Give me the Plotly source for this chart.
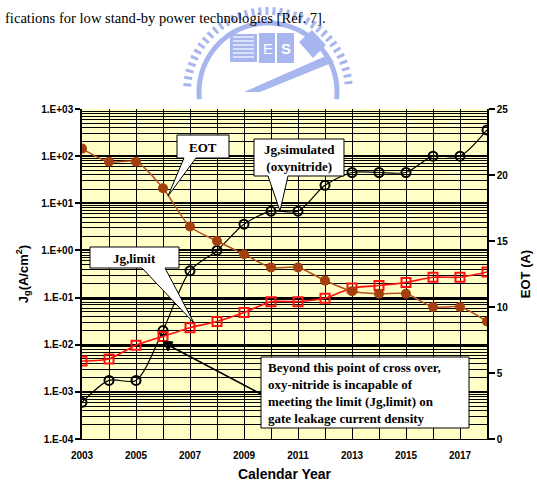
import math
import plotly.graph_objects as go

# ---------------- data ----------------
years = list(range(2003, 2019))
jg_simulated = [6.0e-4, 1.75e-3, 1.75e-3, 2.0e-2, 0.37, 1.0, 3.6, 6.8, 6.8, 24, 45, 45, 45, 100, 100, 360]
jg_limit = [4.5e-3, 5.0e-3, 9.8e-3, 1.5e-2, 2.3e-2, 3.1e-2, 4.8e-2, 8.2e-2, 8.2e-2, 9.7e-2, 0.16, 0.18, 0.21, 0.27, 0.27, 0.35]
eot = [22, 21, 21, 19, 16.1, 15, 14, 13, 13, 12, 11.2, 11, 11, 10, 10, 8.9]

left_tickvals = [1e-4, 1e-3, 1e-2, 1e-1, 1e0, 1e1, 1e2, 1e3]
left_ticktext = ["1.E-04", "1.E-03", "1.E-02", "1.E-01", "1.E+00", "1.E+01", "1.E+02", "1.E+03"]
x_tickvals = [2003, 2005, 2007, 2009, 2011, 2013, 2015, 2017]

# ---------------- geometry helpers (layout decorations only) ----------------
W, H = 537, 483
L, R, T, B = 82, 50, 109, 44
PW, PH = W - L - R, H - T - B


def px(x):
    return (x - L) / PW


def py(y):
    return (H - B - y) / PH


def path(points, close=True):
    s = "M " + " L ".join(f"{px(x):.5f},{py(y):.5f}" for x, y in points)
    return s + (" Z" if close else "")


def arc(cx, cy, r, a0, a1, n=60):
    pts = []
    for i in range(n + 1):
        a = math.radians(a0 + (a1 - a0) * i / n)
        pts.append((cx + r * math.cos(a), cy - r * math.sin(a)))
    return pts


fig = go.Figure()

fig.add_trace(go.Scatter(
    x=years, y=eot, yaxis="y2", mode="lines+markers", name="EOT",
    line=dict(color="#B4521C", width=1.5, shape="spline", smoothing=0.8),
    marker=dict(symbol="circle", size=10, color="#A3400E"),
))
fig.add_trace(go.Scatter(
    x=years, y=jg_simulated, mode="lines+markers", name="Jg,simulated",
    line=dict(color="black", width=1.2, shape="spline", smoothing=0.8),
    marker=dict(symbol="circle-open", size=9, color="black", line=dict(width=2)),
))
fig.add_trace(go.Scatter(
    x=years, y=jg_limit, mode="lines+markers", name="Jg,limit",
    line=dict(color="#FF1010", width=1.6, shape="spline", smoothing=0.5),
    marker=dict(symbol="square-open", size=9, color="#FF1010", line=dict(width=2)),
))

axis_font = dict(family="Liberation Sans, Arial", size=10, color="black", weight="bold")

shapes = []
logo = "#A7B6EE"
# faint watermark logo above the chart
shapes.append(dict(type="path", xref="paper", yref="paper", layer="below",
                   path=path(arc(268, 92, 81, 176, 4), close=False),
                   line=dict(color=logo, width=8, dash="3px,4px")))
shapes.append(dict(type="path", xref="paper", yref="paper", layer="below",
                   path=path(arc(268, 92, 69, 186, -6), close=False),
                   line=dict(color=logo, width=5)))
shapes.append(dict(type="rect", xref="paper", yref="paper", layer="below",
                   x0=px(230), x1=px(257), y0=py(62), y1=py(34),
                   fillcolor=logo, line=dict(width=0)))
for yy in range(37, 60, 4):
    shapes.append(dict(type="line", xref="paper", yref="paper", layer="below",
                       x0=px(233), x1=px(254), y0=py(yy), y1=py(yy),
                       line=dict(color="white", width=1.2)))
shapes.append(dict(type="rect", xref="paper", yref="paper", layer="below",
                   x0=px(259), x1=px(275), y0=py(63), y1=py(33),
                   fillcolor=logo, line=dict(width=0)))
shapes.append(dict(type="rect", xref="paper", yref="paper", layer="below",
                   x0=px(277), x1=px(294), y0=py(63), y1=py(33),
                   fillcolor=logo, line=dict(width=0)))
shapes.append(dict(type="path", xref="paper", yref="paper", layer="below",
                   path=path([(299, 42), (312, 30), (326, 45), (313, 58)]),
                   fillcolor=logo, line=dict(width=0)))
shapes.append(dict(type="path", xref="paper", yref="paper", layer="below",
                   path=path([(244, 92), (328, 55), (334, 62), (260, 92)]),
                   fillcolor=logo, line=dict(width=0)))

# callout boxes (box + wedge outline)
callout_line = dict(color="black", width=1)
shapes.append(dict(type="path", xref="paper", yref="paper", layer="above",
                   path=path([(177, 135), (229, 135), (229, 158), (196, 158), (168, 196), (184, 158), (177, 158)]),
                   fillcolor="white", line=callout_line))
shapes.append(dict(type="path", xref="paper", yref="paper", layer="above",
                   path=path([(254, 139), (344, 139), (344, 176), (288, 176), (280, 211), (268, 176), (254, 176)]),
                   fillcolor="white", line=callout_line))
shapes.append(dict(type="path", xref="paper", yref="paper", layer="above",
                   path=path([(90, 247), (179, 247), (179, 268), (165, 268), (194, 323), (142, 268), (90, 268)]),
                   fillcolor="white", line=callout_line))
shapes.append(dict(type="rect", xref="paper", yref="paper", layer="above",
                   x0=px(261), x1=px(469), y0=py(428), y1=py(357),
                   fillcolor="white", line=callout_line))
# pointer line from the cross-over note to the cross-over point
shapes.append(dict(type="line", xref="paper", yref="paper", layer="above",
                   x0=px(261), y0=py(394), x1=px(168), y1=py(345),
                   line=dict(color="black", width=1.6)))
shapes.append(dict(type="path", xref="paper", yref="paper", layer="above",
                   path=path([(163, 341), (173, 342), (168, 351)]),
                   fillcolor="black", line=dict(color="black", width=1)))

serif = dict(family="Liberation Serif, Times New Roman", size=13, color="black", weight="bold")


def note(x, y, text, font, xanchor="center", align="center"):
    return dict(xref="paper", yref="paper", x=px(x), y=py(y), xanchor=xanchor, yanchor="middle",
                align=align, text=text, showarrow=False, font=font)


annotations = [
    note(3, 18, "fications for low stand-by power technologies [Ref. 7].",
         dict(family="Liberation Serif, Times New Roman", size=14.6, color="black"), xanchor="left"),
    note(268, 48, "E", dict(family="Liberation Sans", size=15, color="white")),
    note(285.5, 48, "S", dict(family="Liberation Sans", size=15, color="white", weight="bold")),
    note(203, 147, "EOT", serif),
    note(299, 158, "Jg,simulated<br>(oxynitride)", serif),
    note(134, 258, "Jg,limit", serif),
    note(266, 393, "Beyond this point of cross over,<br>oxy-nitride is incapable of<br>"
                   "meeting the limit (Jg,limit) on<br>gate leakage current density",
         serif, xanchor="left", align="left"),
]

fig.update_layout(
    width=W, height=H,
    margin=dict(l=L, r=R, t=T, b=B, pad=0, autoexpand=False),
    paper_bgcolor="white",
    plot_bgcolor="#FFFFC6",
    showlegend=False,
    xaxis=dict(
        range=[2003, 2018], tickvals=x_tickvals, ticks="", ticklabelstandoff=7, automargin=False,
        tickfont=axis_font, showgrid=True, gridcolor="black", gridwidth=1.2,
        minor=dict(dtick=1, tick0=2003, showgrid=True, gridcolor="black", gridwidth=1.2, ticks=""),
        zeroline=False, showline=True, linecolor="black", linewidth=1,
        title=dict(text="Calendar Year", font=dict(family="Liberation Sans, Arial", size=14,
                                                   color="black", weight="bold"), standoff=9),
    ),
    yaxis=dict(
        type="log", range=[-4, 3], tickvals=left_tickvals, ticktext=left_ticktext, automargin=False,
        ticks="outside", ticklen=5, tickwidth=1.5, tickcolor="black", tickfont=axis_font,
        showgrid=True, gridcolor="black", gridwidth=2,
        minor=dict(dtick="D1", showgrid=True, gridcolor="black", gridwidth=1.1, ticks=""),
        showline=True, linecolor="black", linewidth=1.5, zeroline=False,
        title=dict(text="J<sub>g</sub>(A/cm<sup>2</sup>)",
                   font=dict(family="Liberation Sans, Arial", size=13, color="black", weight="bold"),
                   standoff=10),
    ),
    yaxis2=dict(
        overlaying="y", side="right", range=[0, 25], tickvals=[0, 5, 10, 15, 20, 25], automargin=False,
        ticks="outside", ticklen=6, tickwidth=1.5, tickcolor="black", tickfont=axis_font,
        showgrid=False, zeroline=False, showline=True, linecolor="black", linewidth=1.5,
        title=dict(text="EOT (A)", font=dict(family="Liberation Sans, Arial", size=13,
                                             color="black", weight="bold"), standoff=14),
    ),
    shapes=shapes,
    annotations=annotations,
)

fig.write_html("out.html")
